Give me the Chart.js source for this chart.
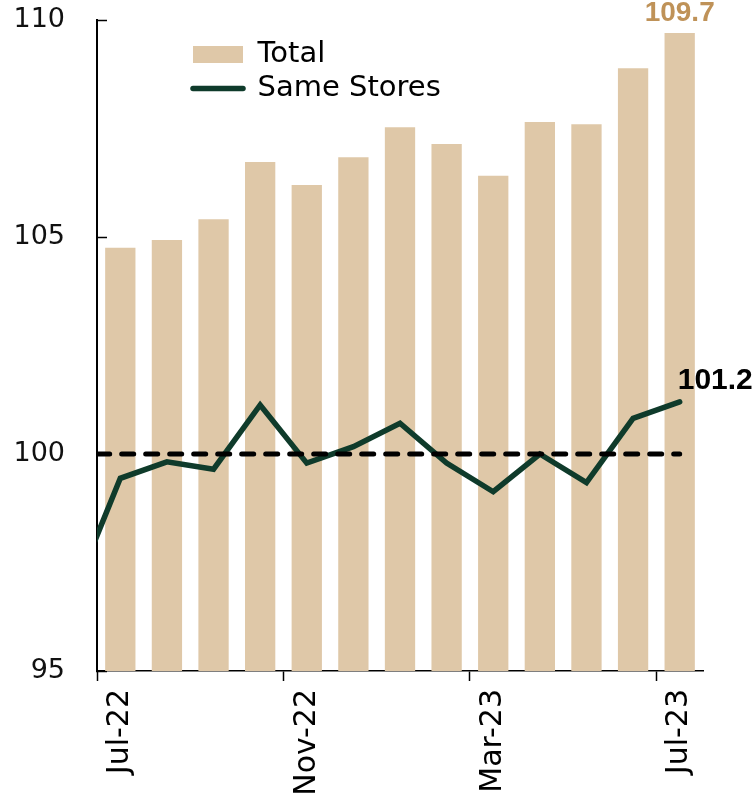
<!DOCTYPE html>
<html>

<head>
	<meta charset="utf-8">
	<title>Total vs Same Stores</title>
	<script src="https://cdn.jsdelivr.net/npm/chart.js@4/dist/chart.umd.min.js"></script>
	<style>
		html, body { margin: 0; padding: 0; background: #fff; }
		#wrap { width: 756px; height: 800px; }
	</style>
</head>

<body>
	<div id="wrap">
		<canvas id="myChart" width="756" height="800"></canvas>
	</div>

	<script>
		// months shown on the bar axis
		const months = ["Jul-22", "Aug-22", "Sep-22", "Oct-22", "Nov-22", "Dec-22", "Jan-23",
			"Feb-23", "Mar-23", "Apr-23", "May-23", "Jun-23", "Jul-23"];
		const totalValues = [104.75, 104.93, 105.41, 106.73, 106.2, 106.84, 107.53,
			107.14, 106.41, 107.65, 107.6, 108.89, 109.7];
		// same stores starts one month earlier (Jun-22), that point sits off the left edge
		const sameStoreMonths = ["Jun-22"].concat(months);
		const sameStores = [96.8, 99.44, 99.82, 99.65, 101.13, 99.79, 100.17, 100.71,
			99.79, 99.13, 100.0, 99.34, 100.82, 101.2];
		const baseLevel = 100;
		const yTicks = [95, 100, 105, 110];

		const barColor = '#dfc8a8';
		const lineColor = '#0f3b2b';
		const goldColor = '#bf9258';

		// month index on the hidden linear axis, so the line can start before Jul-22
		function onMonthAxis(vals) {
			return vals.map((v, i) => ({ x: i - 1, y: v }));
		}

		const valueLabels = {
			id: 'valueLabels',
			afterDatasetsDraw(chart) {
				const ctx = chart.ctx;
				const bars = chart.getDatasetMeta(0).data;
				const pts = chart.getDatasetMeta(1).data;
				const lastBar = bars[bars.length - 1];
				const lastPt = pts[pts.length - 1];
				ctx.save();
				ctx.font = 'bold 28px "Liberation Sans", Arial, sans-serif';
				ctx.fillStyle = goldColor;
				ctx.textAlign = 'center';
				ctx.textBaseline = 'alphabetic';
				ctx.fillText(totalValues[totalValues.length - 1].toFixed(1), lastBar.x, lastBar.y - 12);
				ctx.font = 'bold 30px "Liberation Sans", Arial, sans-serif';
				ctx.fillStyle = '#000';
				ctx.textAlign = 'left';
				ctx.fillText(sameStores[sameStores.length - 1].toFixed(1), lastPt.x - 2, lastPt.y - 13);
				ctx.restore();
			}
		};

		// legend sits inside the plot, nudge it right/down
		const legendShift = {
			id: 'legendShift',
			afterLayout(chart) {
				if (!chart.legend) return;
				chart.legend.left = chart.chartArea.left + 91;
				chart.legend.top = chart.chartArea.top + 15;
			}
		};

		const ctx = document.getElementById('myChart');
		const chart = new Chart(ctx, {
			data: {
				labels: months,
				datasets: [{
					type: 'bar',
					label: 'Total',
					data: totalValues,
					backgroundColor: barColor,
					borderWidth: 0,
					grouped: false,
					barPercentage: 0.65,
					categoryPercentage: 1,
					order: 2
				}, {
					type: 'line',
					label: 'Same Stores',
					data: onMonthAxis(sameStores),
					xAxisID: 'x2',
					borderColor: lineColor,
					backgroundColor: lineColor,
					borderWidth: 5.5,
					borderCapStyle: 'round',
					borderJoinStyle: 'miter',
					pointRadius: 0,
					pointStyle: 'line',
					tension: 0,
					clip: 0,
					order: 1
				}, {
					type: 'line',
					label: 'base',
					data: onMonthAxis(sameStores.map(() => baseLevel)),
					xAxisID: 'x2',
					borderColor: '#000',
					borderWidth: 5,
					borderDash: [12, 12],
					borderCapStyle: 'round',
					pointRadius: 0,
					clip: 0,
					order: 0
				}]
			},
			options: {
				responsive: false,
				animation: false,
				layout: { padding: { top: 20, right: 53, left: 0, bottom: 0 } },
				scales: {
					x: {
						type: 'category',
						offset: true,
						border: { color: '#000', width: 1.5 },
						grid: {
							offset: true,
							drawOnChartArea: false,
							tickLength: 10,
							tickWidth: 1.5,
							tickColor: (c) => c.index % 4 === 0 ? '#000' : 'rgba(0,0,0,0)'
						},
						ticks: {
							autoSkip: false,
							minRotation: 90,
							maxRotation: 90,
							padding: 8,
							color: '#000',
							font: { family: '"DejaVu Sans", sans-serif', size: 30 },
							callback: (v, i) => i % 4 === 0 ? months[i] : ''
						},
						afterFit: (s) => { s.height = 129; }
					},
					x2: {
						type: 'linear',
						display: false,
						min: -0.5,
						max: months.length - 0.5
					},
					y: {
						min: yTicks[0],
						max: yTicks[yTicks.length - 1],
						border: { color: '#000', width: 2 },
						grid: {
							drawOnChartArea: false,
							tickLength: -10,
							tickWidth: 1.5,
							tickColor: '#000'
						},
						afterBuildTicks: (s) => { s.ticks = yTicks.map(v => ({ value: v })); },
						ticks: {
							padding: 42,
							color: '#111',
							font: { family: '"DejaVu Sans", sans-serif', size: 27 }
						},
						afterFit: (s) => {
							s.width = 97;
							// big label padding should not push the plot down
							s.paddingTop = 0;
							s.paddingBottom = 0;
						}
					}
				},
				plugins: {
					tooltip: { enabled: false },
					legend: {
						position: 'chartArea',
						align: 'start',
						labels: {
							usePointStyle: true,
							pointStyleWidth: 50,
							boxHeight: 17,
							padding: 5,
							color: '#000',
							font: { family: '"DejaVu Sans", sans-serif', size: 29 },
							filter: (item) => item.datasetIndex !== 2,
							sort: (a, b) => a.datasetIndex - b.datasetIndex,
							generateLabels(chart) {
								const items = Chart.defaults.plugins.legend.labels.generateLabels(chart);
								items.forEach(it => {
									if (it.datasetIndex === 0) { it.pointStyle = 'rect'; it.lineWidth = 0; }
									if (it.datasetIndex === 1) { it.pointStyle = 'line'; it.lineCap = 'round'; it.lineWidth = 5.5; }
								});
								return items;
							}
						}
					}
				}
			},
			plugins: [valueLabels, legendShift]
		});
	</script>
</body>

</html>
